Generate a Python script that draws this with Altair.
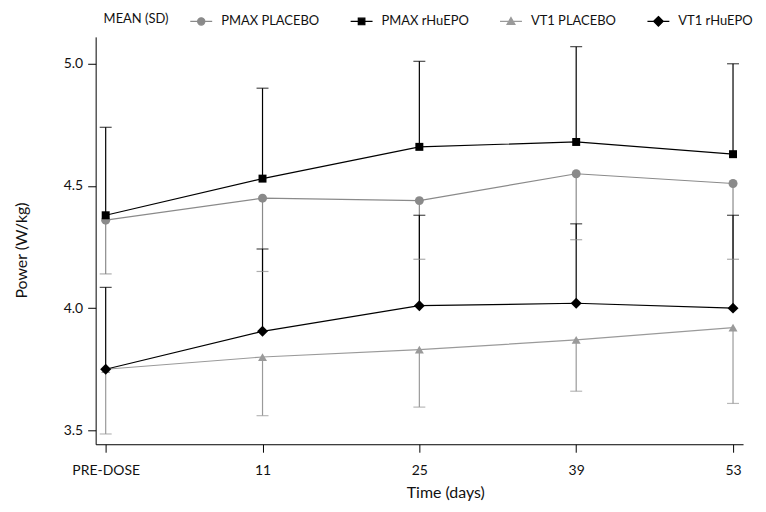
import altair as alt
import pandas as pd

timepoints = ["PRE-DOSE", "11", "25", "39", "53"]
series_names = ["PMAX PLACEBO", "PMAX rHuEPO", "VT1 PLACEBO", "VT1 rHuEPO"]

pmax_placebo_mean = [4.36, 4.45, 4.44, 4.55, 4.51]
pmax_placebo_sd = [0.22, 0.30, 0.24, 0.27, 0.31]
pmax_epo_mean = [4.38, 4.53, 4.66, 4.68, 4.63]
pmax_epo_sd = [0.36, 0.37, 0.35, 0.39, 0.37]
vt1_placebo_mean = [3.75, 3.80, 3.83, 3.87, 3.92]
vt1_placebo_sd = [0.265, 0.24, 0.235, 0.21, 0.31]
vt1_epo_mean = [3.75, 3.905, 4.01, 4.02, 4.00]
vt1_epo_sd = [0.335, 0.337, 0.37, 0.325, 0.38]

# which side of the mean each series' SD bar is drawn on (-1 below, +1 above)
bar_side = [-1, 1, -1, 1]

series_colors = ["#8a8a8a", "#000000", "#9a9a9a", "#000000"]
marker_shapes = ["circle", "square", "triangle-up", "diamond"]
marker_sizes = [81, 64, 81, 121]
legend_paths = [
    "M-1,0H1M0.33,0A0.33,0.33,0,1,1,-0.33,0A0.33,0.33,0,1,1,0.33,0Z",
    "M-1,0H1M-0.3,-0.3H0.3V0.3H-0.3Z",
    "M-1,0H1M0,-0.36L0.36,0.27H-0.36Z",
    "M-1,0H1M0,-0.44L0.44,0L0,0.44L-0.44,0Z",
]

means = [pmax_placebo_mean, pmax_epo_mean, vt1_placebo_mean, vt1_epo_mean]
sds = [pmax_placebo_sd, pmax_epo_sd, vt1_placebo_sd, vt1_epo_sd]

rows = []
for s, name in enumerate(series_names):
    for t, tp in enumerate(timepoints):
        m = means[s][t]
        rows.append({
            "series": name,
            "time": tp,
            "t_idx": t,
            "mean": m,
            "end": m + bar_side[s] * sds[s][t],
        })
df = pd.DataFrame(rows)

FONT = "Lato"
# data-driven domain (alphabetical = series order) for the drawn marks
color_scale = alt.Scale(range=series_colors)

x_enc = alt.X(
    "time:O",
    sort=timepoints,
    scale=alt.Scale(type="point", padding=0.064),
    axis=alt.Axis(
        title="Time (days)",
        titleX=351,
        labelAngle=0,
        tickSize=8,
        labelPadding=11,
        titlePadding=7,
        domainColor="black",
        tickColor="black",
        labelColor="#111",
        titleColor="#111",
        labelFont=FONT,
        titleFont=FONT,
        labelFontSize=14,
        titleFontSize=16,
        titleFontWeight="normal",
        grid=False,
    ),
)
y_scale = alt.Scale(domain=[3.443, 5.11], nice=False, zero=False)
y_enc = alt.Y(
    "mean:Q",
    scale=y_scale,
    axis=alt.Axis(
        title="Power (W/kg)",
        titleY=214,
        values=[3.5, 4.0, 4.5, 5.0],
        format=".1f",
        tickSize=8,
        labelPadding=5,
        titlePadding=34,
        domainColor="black",
        tickColor="black",
        labelColor="#111",
        titleColor="#111",
        labelFont=FONT,
        titleFont=FONT,
        labelFontSize=14,
        titleFontSize=16,
        titleFontWeight="normal",
        grid=False,
    ),
)
color_enc = alt.Color("series:N", scale=color_scale, legend=None)

base = alt.Chart(df).encode(x=x_enc)

lines = base.mark_line(strokeWidth=1.2).encode(
    y=y_enc, color=color_enc, order=alt.Order("t_idx:Q")
)
rules = base.mark_rule(strokeWidth=1.2).encode(
    y=alt.Y("mean:Q", scale=y_scale), y2="end:Q", color=color_enc
)
caps = base.mark_tick(orient="horizontal", size=12, thickness=1.2).encode(
    y=alt.Y("end:Q", scale=y_scale), color=color_enc
)

point_layers = []
for s, name in enumerate(series_names):
    point_layers.append(
        base.transform_filter(alt.datum.series == name)
        .mark_point(shape=marker_shapes[s], size=marker_sizes[s], filled=True, opacity=1)
        .encode(y=alt.Y("mean:Q", scale=y_scale), color=color_enc)
    )

legend = alt.Legend(
    title="MEAN (SD)",
    orient="none",
    legendX=8,
    legendY=-28,
    direction="horizontal",
    titleOrient="left",
    titleAnchor="middle",
    titleBaseline="middle",
    titleFont=FONT,
    titleFontSize=13,
    titleFontWeight="normal",
    titleColor="#111",
    titlePadding=20,
    labelFont=FONT,
    labelFontSize=13,
    labelColor="#111",
    labelOffset=8,
    symbolSize=484,
    symbolStrokeWidth=1.2,
    symbolOpacity=1,
    columnPadding=28,
)
legend_layer = base.mark_point(opacity=0, filled=True, strokeWidth=1.2).encode(
    y=alt.Y("mean:Q", scale=y_scale),
    fill=alt.Fill("series:N", sort=series_names, scale=alt.Scale(domain=series_names, range=series_colors), legend=legend),
    stroke=alt.Stroke("series:N", sort=series_names, scale=alt.Scale(domain=series_names, range=series_colors), legend=legend),
    shape=alt.Shape("series:N", sort=series_names, scale=alt.Scale(domain=series_names, range=legend_paths), legend=legend),
)

chart = (
    alt.layer(lines, rules, caps, *point_layers, legend_layer)
    .properties(width=650, height=409, padding={"top": 0, "left": 5, "right": 5, "bottom": 5})
    .configure(background="white")
    .configure_view(stroke=None)
)

chart.save("out.html", embed_options={"renderer": "svg", "actions": False})
